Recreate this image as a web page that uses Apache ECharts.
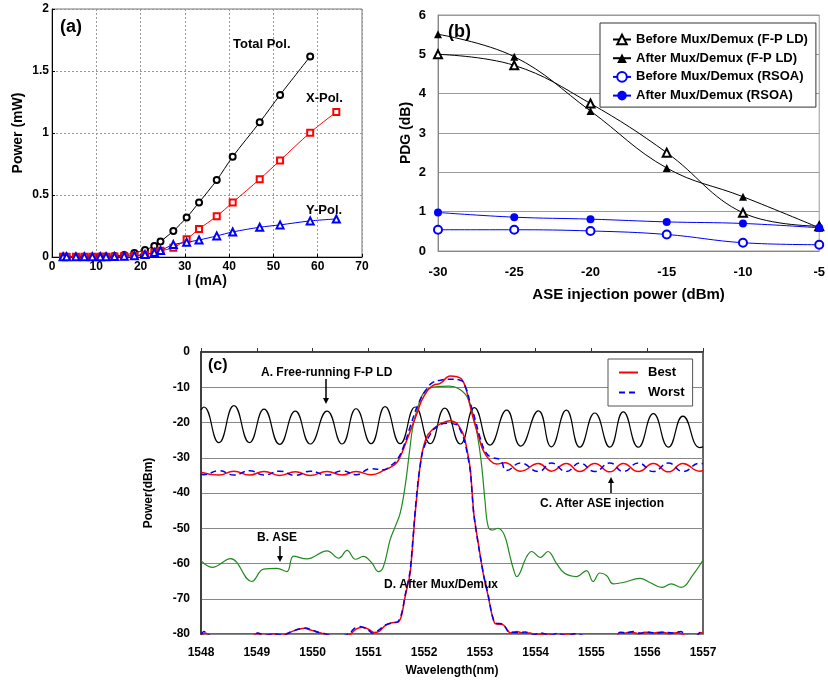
<!DOCTYPE html>
<html>
<head>
<meta charset="utf-8">
<script src="https://cdn.jsdelivr.net/npm/echarts@6/dist/echarts.min.js"></script>
<style>
html,body{margin:0;padding:0;background:#fff;}
#main{width:828px;height:681px;}
</style>
</head>
<body>
<div id="main"></div>
<script>
// ---------- (a) L-I curves ----------
const currentMA = [2.5,3.3,5.4,7.3,9.1,10.9,12.2,14.1,16.3,18.6,21.0,23.1,24.5,27.4,30.4,33.2,37.2,40.8,46.9,51.5,58.3,64.2];
const totalPol = [0.003,0.003,0.003,0.003,0.003,0.004,0.005,0.009,0.017,0.033,0.057,0.089,0.125,0.21,0.318,0.44,0.62,0.809,1.086,1.307,1.617,null];
const xPol = [0.002,0.002,0.002,0.002,0.002,0.002,0.003,0.004,0.007,0.011,0.019,0.036,0.05,0.075,0.143,0.226,0.329,0.44,0.628,0.779,1.003,1.17];
const yPol = [0.002,0.002,0.002,0.002,0.002,0.002,0.003,0.004,0.007,0.011,0.02,0.036,0.052,0.1,0.119,0.137,0.17,0.202,0.24,0.259,0.291,0.307];

// ---------- (b) PDG vs ASE injection ----------
const asePower = [-30,-25,-20,-15,-10,-5];
const beforeFP = [5.0,4.72,3.75,2.5,0.97,0.63];
const afterFP = [5.51,4.94,3.56,2.11,1.38,0.59];
const beforeRSOA = [0.54,0.54,0.51,0.42,0.21,0.16];
const afterRSOA = [0.98,0.86,0.81,0.74,0.70,0.59];

// ---------- (c) spectra ----------
const fpWl = [1548.00,1548.05,1548.32,1548.59,1548.87,1549.13,1549.41,1549.69,1549.96,1550.26,1550.53,1550.78,1551.05,1551.30,1551.57,1551.84,1552.11,1552.37,1552.65,1552.90,1553.18,1553.48,1553.73,1554.05,1554.28,1554.55,1554.79,1555.06,1555.33,1555.57,1555.84,1556.11,1556.38,1556.64,1556.94,1557.00];
const fpDb = [-16.5,-15.6,-25.7,-15.2,-25.7,-16.2,-26.2,-16.8,-26.1,-16.8,-26.1,-16.1,-26.0,-15.5,-26.0,-15.6,-26.0,-15.9,-26.1,-15.8,-26.4,-16.5,-26.7,-16.7,-26.9,-16.5,-27.0,-17.3,-27.0,-17.0,-27.0,-17.5,-27.0,-18.2,-27.1,-26.9];

const aseWl = [1548.00,1548.20,1548.53,1548.91,1549.12,1549.36,1549.54,1549.66,1549.90,1550.26,1550.47,1550.62,1550.77,1550.91,1551.06,1551.18,1551.27,1551.39,1551.48,1551.57,1551.66,1551.74,1551.80,1551.90,1552.02,1552.20,1552.45,1552.62,1552.77,1552.89,1552.98,1553.04,1553.09,1553.15,1553.23,1553.32,1553.44,1553.54,1553.60,1553.66,1553.84,1553.93,1554.08,1554.22,1554.37,1554.52,1554.73,1554.91,1555.03,1555.15,1555.27,1555.39,1555.57,1555.87,1556.05,1556.26,1556.43,1556.61,1556.82,1557.00];
const aseDb = [-59.2,-61.1,-58.6,-65.1,-61.6,-61.4,-62.3,-57.9,-58.7,-56.4,-58.5,-56.3,-58.8,-58.0,-59.8,-62.3,-60.9,-53.3,-49.6,-45.8,-38.0,-28.0,-21.0,-15.0,-11.0,-9.9,-9.7,-10.4,-12.7,-18.4,-26.0,-33.5,-42.0,-49.6,-50.5,-50.0,-52.0,-58.0,-61.5,-63.7,-58.0,-56.6,-58.3,-56.6,-59.9,-62.8,-63.7,-62.0,-65.1,-62.7,-63.4,-65.8,-65.4,-64.2,-65.4,-66.8,-65.8,-66.8,-63.2,-59.0];

const injBestWl = [1548.00,1548.32,1548.59,1548.87,1549.13,1549.41,1549.69,1549.96,1550.26,1550.53,1550.78,1551.05,1551.30,1551.45,1551.54,1551.69,1551.87,1551.99,1552.17,1552.29,1552.47,1552.59,1552.71,1552.80,1552.89,1552.98,1553.06,1553.18,1553.30,1553.45,1553.73,1554.05,1554.28,1554.55,1554.79,1555.06,1555.33,1555.57,1555.84,1556.11,1556.38,1556.64,1556.94,1557.00];
const injBestDb = [-34.1,-34.9,-33.8,-34.9,-33.9,-35.0,-34.0,-35.0,-33.9,-34.9,-33.9,-34.8,-33.4,-32.2,-30.7,-25.0,-17.5,-12.7,-9.4,-8.9,-6.8,-7.0,-8.7,-13.7,-19.4,-24.1,-27.9,-30.7,-31.8,-31.4,-33.8,-31.6,-33.8,-31.6,-33.9,-31.6,-34.0,-31.6,-33.9,-31.6,-34.0,-31.6,-33.8,-33.6];

const injWorstWl = [1548.00,1548.05,1548.32,1548.59,1548.87,1549.13,1549.41,1549.69,1549.96,1550.26,1550.53,1550.78,1551.05,1551.27,1551.40,1551.51,1551.63,1551.75,1551.90,1552.05,1552.17,1552.29,1552.47,1552.65,1552.74,1552.83,1552.92,1553.00,1553.12,1553.24,1553.36,1553.48,1553.73,1554.05,1554.28,1554.55,1554.79,1555.06,1555.33,1555.57,1555.84,1556.11,1556.38,1556.64,1556.94,1557.00];
const injWorstDb = [-34.6,-34.8,-33.7,-34.9,-33.7,-34.9,-33.8,-35.0,-33.8,-34.9,-33.7,-34.8,-33.1,-33.4,-32.2,-30.7,-26.9,-21.2,-14.6,-10.4,-8.5,-8.0,-7.7,-8.0,-9.9,-14.6,-19.4,-24.1,-28.8,-30.0,-30.5,-33.6,-31.5,-33.9,-31.5,-33.9,-31.5,-33.9,-31.5,-33.9,-31.5,-33.9,-31.5,-33.9,-31.6,-31.7];

const muxBestWl = [1548.00,1548.08,1548.20,1548.90,1549.00,1549.10,1549.30,1549.45,1549.55,1549.70,1549.85,1549.95,1550.05,1550.15,1550.25,1550.50,1550.68,1550.78,1550.90,1551.00,1551.10,1551.20,1551.30,1551.42,1551.54,1551.60,1551.66,1551.75,1551.84,1551.90,1551.96,1552.05,1552.17,1552.30,1552.47,1552.59,1552.71,1552.77,1552.83,1552.89,1552.98,1553.07,1553.15,1553.21,1553.27,1553.42,1553.50,1553.54,1553.66,1553.80,1553.90,1554.00,1554.20,1554.35,1554.60,1554.75,1555.00,1555.45,1555.50,1555.60,1555.70,1555.85,1555.95,1556.10,1556.25,1556.40,1556.55,1556.70,1556.85,1556.95,1557.00];
const muxBestDb = [-80.5,-79.7,-81,-81,-79.8,-80.5,-79.9,-80.4,-79.8,-78.9,-78.4,-78.8,-79.3,-79.7,-80.2,-81,-80,-78.6,-78.1,-78.6,-79.6,-79.2,-77.6,-76.8,-76.6,-74.5,-69.4,-62.7,-45.7,-36,-29,-24,-21.7,-20.3,-19.5,-20.3,-23.6,-27.8,-33.5,-45.7,-55.2,-63.7,-69.4,-74.1,-77,-77.4,-79,-79.7,-79.3,-79.8,-79.7,-80.3,-79.9,-80.5,-79.9,-80.6,-81,-80.5,-79.6,-79.8,-79.4,-79.9,-79.5,-79.7,-79.4,-79.9,-79.6,-80.5,-81,-79.6,-79.8];

const muxWorstWl = [1548.00,1548.05,1548.12,1548.20,1548.90,1549.02,1549.15,1549.30,1549.50,1549.60,1549.75,1549.88,1550.00,1550.10,1550.22,1550.45,1550.66,1550.75,1550.85,1550.97,1551.08,1551.18,1551.30,1551.42,1551.53,1551.60,1551.66,1551.75,1551.84,1551.90,1551.97,1552.05,1552.17,1552.30,1552.45,1552.60,1552.71,1552.77,1552.83,1552.89,1552.98,1553.07,1553.15,1553.21,1553.27,1553.42,1553.50,1553.56,1553.68,1553.82,1553.95,1554.10,1554.25,1554.40,1554.55,1554.70,1555.00,1555.42,1555.52,1555.62,1555.75,1555.88,1556.00,1556.15,1556.30,1556.45,1556.60,1556.72,1556.85,1556.96,1557.00];
const muxWorstDb = [-80.2,-79.3,-79.8,-81,-81,-79.7,-80.4,-80.0,-80.3,-79.5,-78.6,-78.3,-78.9,-79.5,-79.9,-81,-79.8,-78.4,-77.9,-78.5,-79.8,-79.0,-77.5,-76.9,-76.5,-74.0,-69.0,-62.0,-45.0,-35.5,-28.5,-25.0,-22.0,-20.5,-20.2,-20.8,-24.5,-28.5,-34.0,-46.0,-55.5,-63.5,-69.0,-74.0,-76.8,-77.2,-79.2,-79.5,-79.6,-79.4,-80.2,-79.7,-80.4,-79.8,-80.6,-79.9,-81,-80.4,-79.5,-79.7,-79.3,-79.8,-79.4,-79.8,-79.5,-79.7,-79.3,-80.4,-81,-79.5,-79.7];

function zip(xs, ys){ const out=[]; for(let i=0;i<xs.length;i++){ if(ys[i]!==null && ys[i]!==undefined) out.push([xs[i], ys[i]]); } return out; }

const FF = '"Liberation Sans", Arial, sans-serif';
const bold = (s)=>({fontFamily:FF,fontWeight:'bold',fontSize:s,color:'#000'});

const chart = echarts.init(document.getElementById('main'), null, {renderer:'canvas'});

function arrow(x, y1, y2){
  const dir = y2 > y1 ? 1 : -1;
  return [
    {type:'line', shape:{x1:x,y1:y1,x2:x,y2:y2 - dir*4}, style:{stroke:'#000',lineWidth:1.5}, z:100},
    {type:'polygon', shape:{points:[[x-3,y2-dir*6],[x+3,y2-dir*6],[x,y2]]}, style:{fill:'#000'}, z:100}
  ];
}
function label(text, x, y, size, align){
  return {type:'text', x:x, y:y, z:100, style:{text:text, font:'bold '+size+'px '+FF, fill:'#000', textAlign:align||'left', textVerticalAlign:'middle'}};
}

const option = {
  animation:false,
  backgroundColor:'#fff',
  grid:[
    {left:52, top:9, width:310, height:248, show:true, borderColor:'#777', borderWidth:1, containLabel:false},
    {left:438, top:15, width:387, height:236, show:true, borderColor:'#999', borderWidth:1, containLabel:false},
    {left:201, top:352, width:502, height:282, show:true, borderColor:'#333', borderWidth:1.5, containLabel:false}
  ],
  xAxis:[
    {gridIndex:0, type:'value', min:0, max:70, interval:10,
     axisLine:{lineStyle:{color:'#000'}}, axisTick:{inside:true,length:3,lineStyle:{color:'#000'}},
     axisLabel:Object.assign(bold(12),{margin:4}),
     splitLine:{show:true,lineStyle:{color:'#999',type:[2,2],width:1}},
     name:'I (mA)', nameLocation:'middle', nameGap:17, nameTextStyle:bold(14)},
    {gridIndex:1, type:'value', min:-30, max:-5, interval:5,
     axisLine:{lineStyle:{color:'#888'}}, axisTick:{show:false},
     axisLabel:Object.assign(bold(13),{margin:15}),
     splitLine:{show:false},
     name:'ASE injection power (dBm)', nameLocation:'middle', nameGap:36, nameTextStyle:bold(15)},
    {gridIndex:2, type:'value', min:1548, max:1557, interval:1,
     axisLine:{lineStyle:{color:'#333',width:1.5}}, axisTick:{inside:true,length:4,lineStyle:{color:'#333'}},
     axisLabel:Object.assign(bold(12),{margin:13, formatter:(v)=>String(v)}),
     splitLine:{show:false},
     name:'Wavelength(nm)', nameLocation:'middle', nameGap:31, nameTextStyle:bold(12)}
  ],
  yAxis:[
    {gridIndex:0, type:'value', min:0, max:2, interval:0.5,
     axisLine:{show:true,lineStyle:{color:'#000'}}, axisTick:{show:true,inside:true,length:3,lineStyle:{color:'#000'}},
     axisLabel:Object.assign(bold(12),{margin:3}),
     splitLine:{show:true,lineStyle:{color:'#999',type:[2,2],width:1}},
     name:'Power (mW)', nameLocation:'middle', nameGap:27, nameTextStyle:bold(14)},
    {gridIndex:1, type:'value', min:0, max:6, interval:1,
     axisLine:{show:true,lineStyle:{color:'#888'}}, axisTick:{show:false},
     axisLabel:Object.assign(bold(13),{margin:12}),
     splitLine:{show:true,lineStyle:{color:'#999',width:1}},
     name:'PDG (dB)', nameLocation:'middle', nameGap:25, nameTextStyle:bold(14)},
    {gridIndex:2, type:'value', min:-80, max:0, interval:10,
     axisLine:{show:true,lineStyle:{color:'#333',width:1.5}}, axisTick:{show:false},
     axisLabel:Object.assign(bold(12),{margin:11}),
     splitLine:{show:true,lineStyle:{color:'#888',width:1}},
     name:'Power(dBm)', nameLocation:'middle', nameGap:46, nameTextStyle:bold(12)}
  ],
  legend:[
    {data:['Before Mux/Demux (F-P LD)','After Mux/Demux (F-P LD)','Before Mux/Demux (RSOA)','After Mux/Demux (RSOA)'],
     orient:'vertical', left:600, top:23, padding:[10,8,5,12], itemWidth:18, itemHeight:12, itemGap:5.7,
     borderColor:'#333', borderWidth:1, backgroundColor:'#fff', textStyle:bold(13), selectedMode:false},
    {data:['Best','Worst'],
     orient:'vertical', left:608, top:359, padding:[7,8,7,10], itemWidth:19, itemHeight:12, itemGap:7,
     itemStyle:{color:'rgba(0,0,0,0)', borderColor:'rgba(0,0,0,0)', borderWidth:0},
     borderColor:'#555', borderWidth:1, backgroundColor:'#fff', textStyle:Object.assign(bold(13),{padding:[0,0,0,5]}), selectedMode:false}
  ],
  series:[
    {name:'Total Pol.', type:'line', xAxisIndex:0, yAxisIndex:0, data:zip(currentMA,totalPol), smooth:0.3,
     symbol:'emptyCircle', symbolSize:6, lineStyle:{color:'#000',width:1}, itemStyle:{color:'#000',borderWidth:0.8}},
    {name:'X-Pol.', type:'line', xAxisIndex:0, yAxisIndex:0, data:zip(currentMA,xPol), smooth:0.3,
     symbol:'emptyRect', symbolSize:6, lineStyle:{color:'#f00',width:1}, itemStyle:{color:'#f00',borderWidth:0.8}},
    {name:'Y-Pol.', type:'line', xAxisIndex:0, yAxisIndex:0, data:zip(currentMA,yPol), smooth:0.3,
     symbol:'emptyTriangle', symbolSize:7, lineStyle:{color:'#00f',width:1}, itemStyle:{color:'#00f',borderWidth:0.8}},
    {name:'Before Mux/Demux (F-P LD)', type:'line', xAxisIndex:1, yAxisIndex:1, data:zip(asePower,beforeFP), smooth:0.4,
     symbol:'emptyTriangle', symbolSize:8, lineStyle:{color:'#000',width:1}, itemStyle:{color:'#000',borderWidth:1}},
    {name:'After Mux/Demux (F-P LD)', type:'line', xAxisIndex:1, yAxisIndex:1, data:zip(asePower,afterFP), smooth:0.4,
     symbol:'triangle', symbolSize:8, lineStyle:{color:'#000',width:1}, itemStyle:{color:'#000'}},
    {name:'Before Mux/Demux (RSOA)', type:'line', xAxisIndex:1, yAxisIndex:1, data:zip(asePower,beforeRSOA), smooth:0.4,
     symbol:'emptyCircle', symbolSize:8, lineStyle:{color:'#00f',width:1}, itemStyle:{color:'#00f',borderWidth:1}},
    {name:'After Mux/Demux (RSOA)', type:'line', xAxisIndex:1, yAxisIndex:1, data:zip(asePower,afterRSOA), smooth:0.4,
     symbol:'circle', symbolSize:8, lineStyle:{color:'#00f',width:1}, itemStyle:{color:'#00f'}},
    {name:'A', type:'line', xAxisIndex:2, yAxisIndex:2, data:zip(fpWl,fpDb), smooth:0.5, symbol:'none',
     lineStyle:{color:'#000',width:1.2}},
    {name:'B', type:'line', xAxisIndex:2, yAxisIndex:2, data:zip(aseWl,aseDb), smooth:0.4, symbol:'none',
     lineStyle:{color:'#1f8a1f',width:1.2}},
    {name:'Best', type:'line', xAxisIndex:2, yAxisIndex:2, data:zip(injBestWl,injBestDb), smooth:0.5, symbol:'none',
     lineStyle:{color:'#f00',width:1.5}, itemStyle:{color:'#f00'}},
    {name:'Worst', type:'line', xAxisIndex:2, yAxisIndex:2, data:zip(injWorstWl,injWorstDb), smooth:0.5, symbol:'none',
     lineStyle:{color:'#00f',width:1.5,type:[6,4]}, itemStyle:{color:'#00f'}},
    {name:'Best', type:'line', xAxisIndex:2, yAxisIndex:2, data:zip(muxBestWl,muxBestDb), smooth:0.2, symbol:'none',
     lineStyle:{color:'#f00',width:1.5}, itemStyle:{color:'#f00'}},
    {name:'Worst', type:'line', xAxisIndex:2, yAxisIndex:2, data:zip(muxWorstWl,muxWorstDb), smooth:0.2, symbol:'none',
     lineStyle:{color:'#00f',width:1.5,type:[6,4]}, itemStyle:{color:'#00f'}}
  ],
  graphic:[].concat(
    [label('(a)', 60, 27, 18), label('Total Pol.', 233, 44, 13), label('X-Pol.', 306, 98, 13), label('Y-Pol.', 306, 210, 13),
     label('(b)', 448, 32, 18),
     label('(c)', 208, 366, 16), label('A. Free-running F-P LD', 261, 373, 12), label('B. ASE', 257, 538, 12),
     label('D. After Mux/Demux', 384, 585, 12), label('C. After ASE injection', 540, 504, 12)],
    arrow(326, 379, 404), arrow(280, 546, 562), arrow(611, 493, 477)
  )
};
chart.setOption(option);
</script>
</body>
</html>
